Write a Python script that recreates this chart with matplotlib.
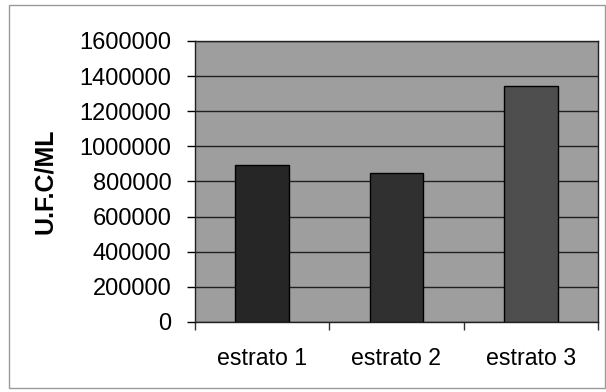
import matplotlib

matplotlib.use("Agg")
from matplotlib import pyplot as plt  # noqa: E402
from matplotlib.patches import Rectangle  # noqa: E402
from matplotlib.ticker import MultipleLocator  # noqa: E402

categories = ["estrato 1", "estrato 2", "estrato 3"]
ufc_values = [895000, 850000, 1345000]
bar_colors = ["#262626", "#303030", "#4e4e4e"]
y_label = "U.F.C/ML"

plt.rcParams["font.family"] = ["Liberation Sans", "DejaVu Sans"]

fig = plt.figure(figsize=(6.06, 3.92), dpi=100)
fig.patch.set_facecolor("white")
fig.patches.append(
    Rectangle((9 / 606, 4 / 392), 596 / 606, 383 / 392, transform=fig.transFigure,
              fill=False, edgecolor="#9a9a9a", linewidth=1.0)
)

ax = fig.add_axes([195 / 606, 70 / 392, 403 / 606, 281 / 392])
ax.set_facecolor("#9e9e9e")

xs = list(range(len(categories)))
ax.bar(xs, ufc_values, width=0.4, color=bar_colors, edgecolor="black",
       linewidth=1.0, zorder=3)

ax.set_xlim(-0.5, len(categories) - 0.5)
ax.set_ylim(0, 1600000)
ax.yaxis.set_major_locator(MultipleLocator(200000))
ax.grid(axis="y", color="#202020", linewidth=1.0, zorder=1)

ax.set_xticks(xs)
ax.set_xticklabels(categories, fontsize=16.7)
ax.tick_params(axis="x", which="major", length=0, pad=18)
ax.set_xticks([x - 0.5 for x in range(len(categories) + 1)], minor=True)
ax.tick_params(axis="x", which="minor", length=6, width=1.0, color="#333333")
ax.tick_params(axis="y", labelsize=17, length=6, width=1.0, pad=11)
ax.ticklabel_format(axis="y", style="plain", useOffset=False)

ax.set_ylabel(y_label, fontsize=18, fontweight="bold", labelpad=16)

for side in ("left", "bottom", "top", "right"):
    ax.spines[side].set_color("#202020")
    ax.spines[side].set_linewidth(1.0)

fig.savefig("out.png", dpi=100)
plt.close(fig)
